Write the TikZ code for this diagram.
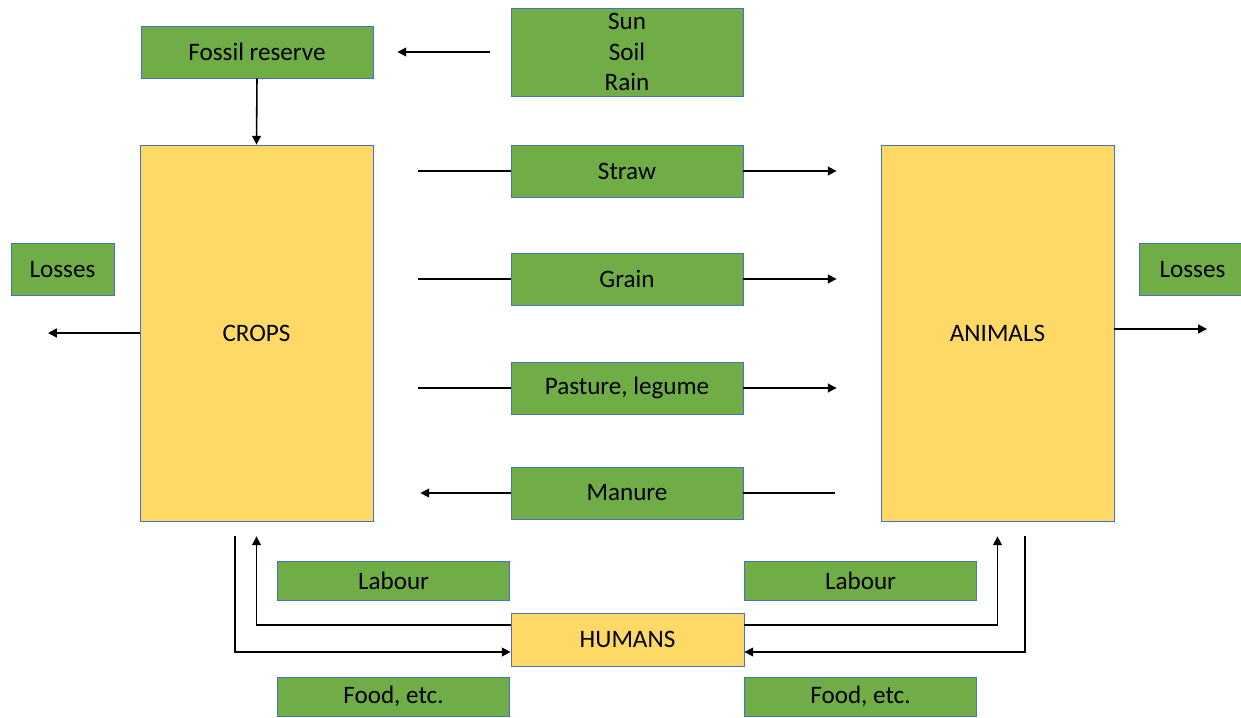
\documentclass[tikz,border=0pt]{standalone}
\usepackage{fontspec}
\setmainfont{Carlito}
\usetikzlibrary{arrows.meta}
\definecolor{leaf}{HTML}{70AD47}
\definecolor{hay}{HTML}{FFD966}
\definecolor{rim}{HTML}{4472C4}

\begin{document}
\begin{tikzpicture}[x=0.02cm, y=-0.02cm,
        box/.style={draw=rim, line width=0.5pt, inner sep=0pt, align=center,
            font=\fontsize{14.3}{17.3}\selectfont},
        flow/.style={box, fill=leaf, minimum width=4.64cm, minimum height=1.04cm},
        pool/.style={box, fill=hay, minimum width=4.66cm},
        slim/.style={flow, minimum height=0.78cm},
        ln/.style={line width=0.9pt},
        arr/.style={ln, -{Triangle[length=5pt, width=5pt]}}]
        \useasboundingbox (0,0) rectangle (1241,717);
        % top row
        \node[flow] (fossil) at (257,52) {Fossil reserve};
        \node[flow, minimum height=1.76cm] (sun) at (627,52) {Sun\\Soil\\Rain};
        % the two pools
        \node[pool, minimum height=7.52cm] (crops) at (256.5,333) {CROPS};
        \node[pool, minimum height=7.52cm] (animals) at (997.5,333) {ANIMALS};
        % flows between them
        \node[flow] (straw) at (627,171) {Straw};
        \node[flow] (grain) at (627,279) {Grain};
        \node[flow] (pasture) at (627,388) {Pasture, legume};
        \node[flow] (manure) at (627,493) {Manure};
        % losses
        \node[flow, minimum width=2.06cm] (lossA) at (62.5,269.5) {Losses};
        \node[flow, minimum width=2.2cm] (lossB) at (1194.5,269.5) {\hspace*{-0.08cm}Losses};
        \coordinate (outA) at (48,333);
        \coordinate (outB) at (1207,329);
        % humans
        \node[slim] (labourA) at (393.5,580.5) {Labour};
        \node[slim] (labourB) at (860.5,580.5) {Labour};
        \node[pool, minimum height=1.06cm] (humans) at (627.5,639.5) {HUMANS};
        \node[slim] (foodA) at (393.5,696.5) {Food, etc.};
        \node[slim] (foodB) at (860.5,696.5) {Food, etc.};

        \draw[arr, shorten <=0.42cm, shorten >=0.48cm] (sun.west) -- (fossil.east);
        \draw[arr] (fossil.south) -- (crops.north);
        \foreach \f in {straw, grain, pasture} {
            \draw[ln, shorten <=0.9cm] (crops.east |- \f) -- (\f.west);
            \draw[arr, shorten >=0.88cm] (\f.east) -- (animals.west |- \f);
        }
        \draw[ln, shorten <=0.92cm] (animals.west |- manure) -- (manure.east);
        \draw[arr, shorten >=0.94cm] (manure.west) -- (crops.east |- manure);
        \draw[arr] (crops.west |- outA) -- (outA);
        \draw[arr] (animals.east |- outB) -- (outB);
        \draw[arr, shorten <=0.3cm] ([xshift=-0.43cm]crops.south) |- ([yshift=-0.25cm]humans.west);
        \draw[arr, shorten >=0.3cm] ([yshift=0.29cm]humans.west) -| (crops.south);
        \draw[arr, shorten >=0.3cm] ([yshift=0.29cm]humans.east) -| (animals.south);
        \draw[arr, shorten <=0.3cm] ([xshift=0.55cm]animals.south) |- ([yshift=-0.25cm]humans.east);
\end{tikzpicture}
\end{document}
